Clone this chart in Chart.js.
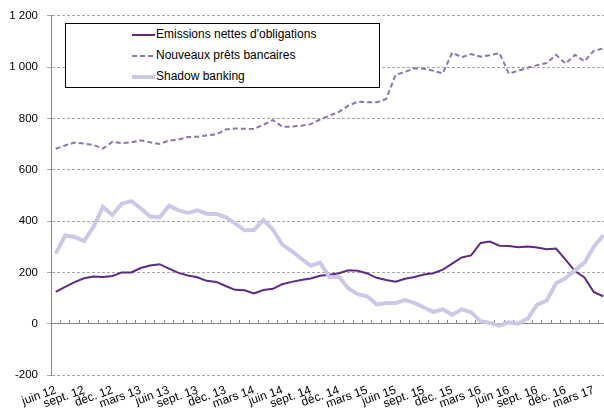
<!DOCTYPE html>
<html lang="fr">
<head>
<meta charset="utf-8">
<title>Financement des entreprises</title>
<script src="https://cdn.jsdelivr.net/npm/chart.js@4.4.1/dist/chart.umd.min.js"></script>
<style>
  html, body { margin: 0; padding: 0; background: #fff; overflow: hidden; }
  #wrap { position: relative; width: 604px; height: 412px; overflow: hidden; }
  #chart { position: absolute; left: 0; top: 0; }
  #legend {
    position: absolute; left: 65px; top: 23px; width: 315px; height: 65px;
    box-sizing: border-box; border: 1px solid #000; background: #fff;
    font: 12px "Liberation Sans", Arial, sans-serif; color: #000;
  }
  #legend .items { margin-left: 66px; }
  #legend .row { height: 21px; line-height: 21px; white-space: nowrap; }
  #legend svg { vertical-align: middle; margin-right: 1px; }
</style>
</head>
<body>
<div id="wrap">
  <canvas id="chart" width="610" height="412"></canvas>
  <div id="legend">
    <div class="items">
      <div class="row"><svg width="23" height="6"><line x1="0" y1="3" x2="23" y2="3" stroke="#5E2A84" stroke-width="2"/></svg><span>Emissions nettes d'obligations</span></div>
      <div class="row"><svg width="23" height="6"><line x1="0" y1="3" x2="23" y2="3" stroke="#8C75AE" stroke-width="2" stroke-dasharray="5,3"/></svg><span>Nouveaux prêts bancaires</span></div>
      <div class="row"><svg width="23" height="6"><line x1="0" y1="3" x2="23" y2="3" stroke="#CCC8E6" stroke-width="4"/></svg><span>Shadow banking</span></div>
    </div>
  </div>
</div>
<script>
// mois (juin 2012 -> avril 2017), une étiquette affichée par trimestre
const months = [
  "juin 12", "juil. 12", "août 12", "sept. 12", "oct. 12", "nov. 12", "déc. 12",
  "janv. 13", "févr. 13", "mars 13", "avr. 13", "mai 13", "juin 13", "juil. 13", "août 13", "sept. 13", "oct. 13", "nov. 13", "déc. 13",
  "janv. 14", "févr. 14", "mars 14", "avr. 14", "mai 14", "juin 14", "juil. 14", "août 14", "sept. 14", "oct. 14", "nov. 14", "déc. 14",
  "janv. 15", "févr. 15", "mars 15", "avr. 15", "mai 15", "juin 15", "juil. 15", "août 15", "sept. 15", "oct. 15", "nov. 15", "déc. 15",
  "janv. 16", "févr. 16", "mars 16", "avr. 16", "mai 16", "juin 16", "juil. 16", "août 16", "sept. 16", "oct. 16", "nov. 16", "déc. 16",
  "janv. 17", "févr. 17", "mars 17", "avr. 17"
];

const emissions = [
  124, 144, 162, 177, 184, 182, 186, 200, 200, 217, 227, 232, 215, 198, 188,
  181, 167, 163, 147, 132, 130, 118, 131, 136, 154, 163, 170, 176, 187, 191,
  197, 208, 206, 196, 179, 170, 164, 175, 182, 192, 197, 211, 234, 258, 266,
  315, 320, 304, 303, 298, 301, 297, 290, 293, 250, 205, 180, 123, 107
];

const prets = [
  682, 695, 706, 702, 697, 683, 709, 704, 707, 715, 707, 701, 714, 718, 728,
  729, 734, 738, 757, 761, 760, 759, 776, 794, 768, 768, 772, 778, 796, 811,
  826, 850, 866, 863, 863, 876, 970, 982, 996, 994, 986, 976, 1057, 1039, 1051,
  1041, 1047, 1055, 975, 986, 998, 1008, 1016, 1048, 1014, 1048, 1023, 1064, 1073
];

const shadow = [
  273, 344, 338, 322, 378, 455, 424, 468, 478, 450, 418, 414, 460, 442, 432,
  442, 429, 428, 416, 391, 364, 365, 405, 367, 308, 283, 254, 226, 238, 181,
  183, 137, 115, 107, 75, 81, 81, 92, 81, 63, 46, 56, 35, 56, 45,
  9, 3, -8, 5, 0, 20, 74, 90, 158, 178, 208, 238, 300, 345
];

const yTicks = [-200, 0, 200, 400, 600, 800, 1000, 1200];

const FONT = '"Liberation Sans", Arial, sans-serif';
const AXIS_GREY = "#868686";

// 1200 -> "1 200"
function fmt(v) {
  return String(v).replace(/\B(?=(\d{3})+(?!\d))/g, " ");
}

const ctx = document.getElementById("chart");

new Chart(ctx, {
  type: "line",
  data: {
    labels: months,
    datasets: [
      {
        label: "Emissions nettes d'obligations",
        data: emissions,
        borderColor: "#5E2A84",
        borderWidth: 2,
        pointRadius: 0,
        tension: 0,
        order: 1,
      },
      {
        label: "Nouveaux prêts bancaires",
        data: prets,
        borderColor: "#8C75AE",
        borderWidth: 2,
        borderDash: [5, 3],
        pointRadius: 0,
        tension: 0,
        order: 2,
      },
      {
        label: "Shadow banking",
        data: shadow,
        borderColor: "#CCC8E6",
        borderWidth: 4,
        pointRadius: 0,
        tension: 0,
        order: 0,
      },
    ],
  },
  options: {
    responsive: false,
    animation: false,
    devicePixelRatio: 1,
    layout: { padding: { top: 15, right: 2, left: 0, bottom: 0 } },
    plugins: {
      legend: { display: false },
      tooltip: { enabled: false },
    },
    scales: {
      // axe des catégories posé sur la ligne du zéro (traits de graduation seulement)
      x: {
        type: "category",
        position: { y: 0 },
        offset: true,
        grid: {
          offset: true,
          drawOnChartArea: false,
          drawTicks: true,
          tickLength: -4,
          tickColor: AXIS_GREY,
        },
        border: { color: AXIS_GREY, width: 1 },
        ticks: { display: false, autoSkip: false },
      },
      // étiquettes trimestrielles en bas du graphique
      xl: {
        type: "category",
        position: "bottom",
        offset: true,
        grid: { display: false, drawTicks: false },
        border: { display: false },
        ticks: {
          autoSkip: false,
          minRotation: 20,
          maxRotation: 20,
          padding: 8,
          color: "#000",
          font: { family: FONT, size: 12 },
          callback: function (val, i) {
            return i % 3 === 0 ? this.getLabelForValue(val) : "";
          },
        },
        afterFit: function (s) {
          s.height = 37;
          s.paddingLeft = 0;
          s.paddingRight = 0;
        },
      },
      y: {
        min: yTicks[0],
        max: yTicks[yTicks.length - 1],
        ticks: {
          stepSize: 200,
          padding: 9,
          color: "#000",
          font: { family: FONT, size: 11.5 },
          callback: (v) => fmt(v),
        },
        grid: {
          color: "#A6A6A6",
          tickLength: 4,
          tickColor: "#A6A6A6",
        },
        border: { color: AXIS_GREY, width: 1, dash: [3, 2] },
        afterFit: function (s) {
          s.width = 51;
        },
      },
    },
  },
});
</script>
</body>
</html>
